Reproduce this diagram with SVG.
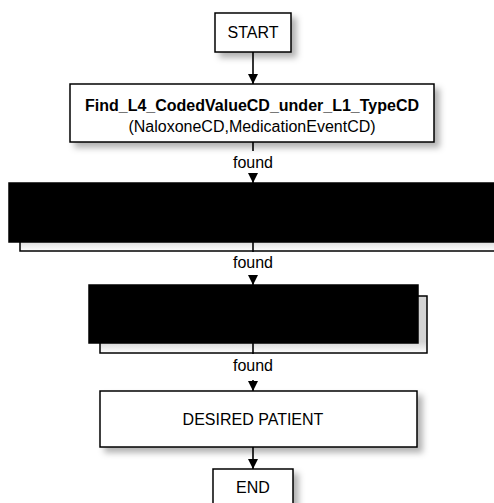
<svg xmlns="http://www.w3.org/2000/svg" width="494" height="503" viewBox="0 0 494 503">
<defs>
<filter id="sh" x="-10%" y="-20%" width="130%" height="160%">
<feDropShadow dx="5" dy="5" stdDeviation="3" flood-color="#000" flood-opacity="0.3"/>
</filter>
<linearGradient id="gap" x1="0" y1="0" x2="0" y2="1">
<stop offset="0.8" stop-color="#d4d4d4"/>
<stop offset="1" stop-color="#ffffff"/>
</linearGradient>
<marker id="ah" viewBox="0 0 10 10" refX="10" refY="5" markerWidth="10" markerHeight="10" markerUnits="userSpaceOnUse" orient="auto">
<path d="M0,0 L10,5 L0,10 Z" fill="#000"/>
</marker>
</defs>
<style>
.box{fill:#fff;stroke:#000;stroke-width:1.5}
.red{fill:#000;stroke:#000;stroke-width:1.5}
.t{font-family:"Liberation Sans",Arial,sans-serif;font-size:16px;fill:#000;text-anchor:middle}
.b{font-weight:bold}
.c{stroke:#000;stroke-width:1.6;fill:none}
</style>
<rect width="494" height="503" fill="#fff"/>
<g id="start">
<rect class="box" x="215" y="13" width="76" height="39" filter="url(#sh)"/>
<text class="t" x="253" y="38">START</text>
</g>
<g id="find">
<rect class="box" x="70" y="84" width="364" height="58" filter="url(#sh)"/>
<text class="t b" x="252" y="111">Find_L4_CodedValueCD_under_L1_TypeCD</text>
<text class="t" x="252" y="132">(NaloxoneCD,MedicationEventCD)</text>
</g>
<g id="step2">
<rect class="box" x="20" y="192" width="490" height="59" style="fill:url(#gap)"/>
<rect class="red" x="9" y="183" width="490" height="59"/>
</g>
<g id="step3">
<rect class="box" x="100" y="296" width="327" height="57" style="fill:url(#gap)"/>
<rect class="red" x="89" y="285" width="329" height="58"/>
</g>
<g id="patient">
<rect class="box" x="100" y="391" width="317" height="56" filter="url(#sh)"/>
<text class="t" x="253" y="425">DESIRED PATIENT</text>
</g>
<g id="end">
<rect class="box" x="213" y="469" width="80" height="40" filter="url(#sh)"/>
<text class="t" x="253" y="493">END</text>
</g>
<g id="connectors">
<line class="c" x1="253" y1="52" x2="253" y2="84" marker-end="url(#ah)"/>
<line class="c" x1="253" y1="142" x2="253" y2="151"/>
<text class="t" x="253" y="168">found</text>
<line class="c" x1="253" y1="173" x2="253" y2="183" marker-end="url(#ah)"/>
<line class="c" x1="253" y1="242" x2="253" y2="252"/>
<text class="t" x="253" y="268">found</text>
<line class="c" x1="253" y1="275" x2="253" y2="285" marker-end="url(#ah)"/>
<line class="c" x1="253" y1="343" x2="253" y2="354"/>
<text class="t" x="253" y="371">found</text>
<line class="c" x1="253" y1="380" x2="253" y2="391" marker-end="url(#ah)"/>
<line class="c" x1="253" y1="447" x2="253" y2="469" marker-end="url(#ah)"/>
</g>
</svg>
